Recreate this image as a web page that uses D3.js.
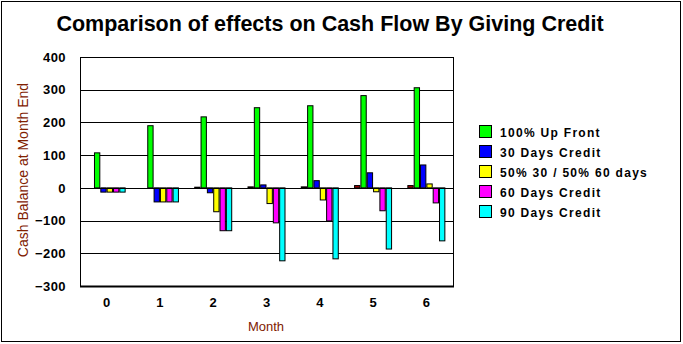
<!DOCTYPE html>
<html><head><meta charset="utf-8">
<script src="https://cdn.jsdelivr.net/npm/d3@7"></script>
<style>
html,body{margin:0;padding:0;background:#fff;}
svg{display:block;font-family:"Liberation Sans",Arial,sans-serif;}
</style></head>
<body>
<svg id="c" width="683" height="344"></svg>
<script>
const months = ["0","1","2","3","4","5","6"];
const seriesNames = ["(unnamed)","100% Up Front","30 Days Credit","50% 30 / 50% 60 days","60 Days Credit","90 Days Credit"];
const seriesColors = ["#a00000","#00ff00","#0000ff","#ffff00","#ff00ff","#00ffff"];
const sUnnamed = [0, 0, 2, 3, 3, 7, 7];
const sUpFront = [107, 190, 217, 245, 251, 282, 306];
const s30 = [-13, -43, -15, 9, 22, 46, 70];
const s5050 = [-13, -43, -73, -48, -37, -12, 12];
const s60 = [-13, -43, -131, -107, -101, -70, -46];
const s90 = [-13, -43, -131, -223, -217, -187, -162];
const yTicks = [400, 300, 200, 100, 0, -100, -200, -300];
const inLegend = [false, true, true, true, true, true];

const allSeries = [sUnnamed, sUpFront, s30, s5050, s60, s90];
const svg = d3.select("#c");

svg.append("rect").attr("x",1.5).attr("y",1.5).attr("width",679).attr("height",340)
  .attr("fill","#fff").attr("stroke","#000").attr("stroke-width",1);

const L = 80, R = 453, T = 57, B = 286;
const x = d3.scaleBand().domain(months).range([L, R]);
const xs = d3.scaleBand().domain(d3.range(allSeries.length)).range([0, 38]);
const y = d3.scaleLinear().domain([-300, 400]).range([B, T]);

// gridlines
svg.append("g").selectAll("line").data(yTicks).join("line")
  .attr("x1", L).attr("x2", R)
  .attr("y1", d => Math.round(y(d)) + 0.5).attr("y2", d => Math.round(y(d)) + 0.5)
  .attr("stroke", "#000").attr("stroke-width", 1);

// bars
const g = svg.append("g");
allSeries.forEach((vals, si) => {
  g.selectAll(null).data(vals).join("rect")
    .attr("x", (d, i) => x(months[i]) + (x.bandwidth() - 38) / 2 + xs(si) + 0.5)
    .attr("width", xs.bandwidth() - 1)
    .attr("y", d => Math.min(y(d), y(0)))
    .attr("height", d => Math.abs(y(d) - y(0)))
    .attr("fill", seriesColors[si])
    .attr("stroke", d => d === 0 ? "none" : "#000")
    .attr("stroke-width", 1);
});

// zero line above bars
svg.append("line").attr("x1", L).attr("x2", R)
  .attr("y1", Math.round(y(0)) + 0.5).attr("y2", Math.round(y(0)) + 0.5)
  .attr("stroke", "#000");

// frame: left, right, bottom
svg.append("line").attr("x1", L + 0.5).attr("x2", L + 0.5).attr("y1", T).attr("y2", B + 1).attr("stroke", "#000");
svg.append("line").attr("x1", R + 0.5).attr("x2", R + 0.5).attr("y1", T).attr("y2", B + 1).attr("stroke", "#000");
svg.append("line").attr("x1", L).attr("x2", R + 1).attr("y1", B + 0.5).attr("y2", B + 0.5).attr("stroke", "#000").attr("stroke-width", 2);

// y axis labels
const yAxis = d3.axisLeft(y).tickValues(yTicks).tickSize(0).tickPadding(14);
const ya = svg.append("g").attr("transform", `translate(${L},0)`).call(yAxis);
ya.select(".domain").remove();
ya.selectAll("text").attr("font-size", 13).attr("font-weight", "bold").attr("letter-spacing", "0.4px")
  .attr("font-family", "Liberation Sans, Arial, sans-serif").attr("fill", "#000");

// x axis labels
const xAxis = d3.axisBottom(x).tickSize(0).tickPadding(12);
const xa = svg.append("g").attr("transform", `translate(0,${B})`).call(xAxis);
xa.select(".domain").remove();
xa.selectAll("text").attr("font-size", 13).attr("font-weight", "bold")
  .attr("font-family", "Liberation Sans, Arial, sans-serif").attr("fill", "#000");

// titles
svg.append("text").attr("x", 330).attr("y", 31).attr("text-anchor", "middle")
  .attr("font-size", 21.5).attr("font-weight", "bold").attr("fill", "#000")
  .text("Comparison of effects on Cash Flow By Giving Credit");

svg.append("text").attr("transform", "translate(28,170) rotate(-90)")
  .attr("text-anchor", "middle").attr("font-size", 14).attr("fill", "#802000")
  .text("Cash Balance at Month End");

svg.append("text").attr("x", 266).attr("y", 331).attr("text-anchor", "middle")
  .attr("font-size", 13).attr("fill", "#802000").text("Month");

// legend
const legItems = seriesNames.map((n, i) => ({n, c: seriesColors[i], show: inLegend[i]})).filter(d => d.show);
const lg = svg.append("g");
legItems.forEach((d, i) => {
  const cy = 132 + i * 20;
  lg.append("rect").attr("x", 479.5).attr("y", cy - 6.5).attr("width", 12).attr("height", 12)
    .attr("fill", d.c).attr("stroke", "#000");
  lg.append("text").attr("x", 500).attr("y", cy + 4.5).attr("font-size", 12)
    .attr("font-weight", "bold").attr("letter-spacing", "1.3px").attr("fill", "#000")
    .text(d.n);
});
</script>
</body></html>
